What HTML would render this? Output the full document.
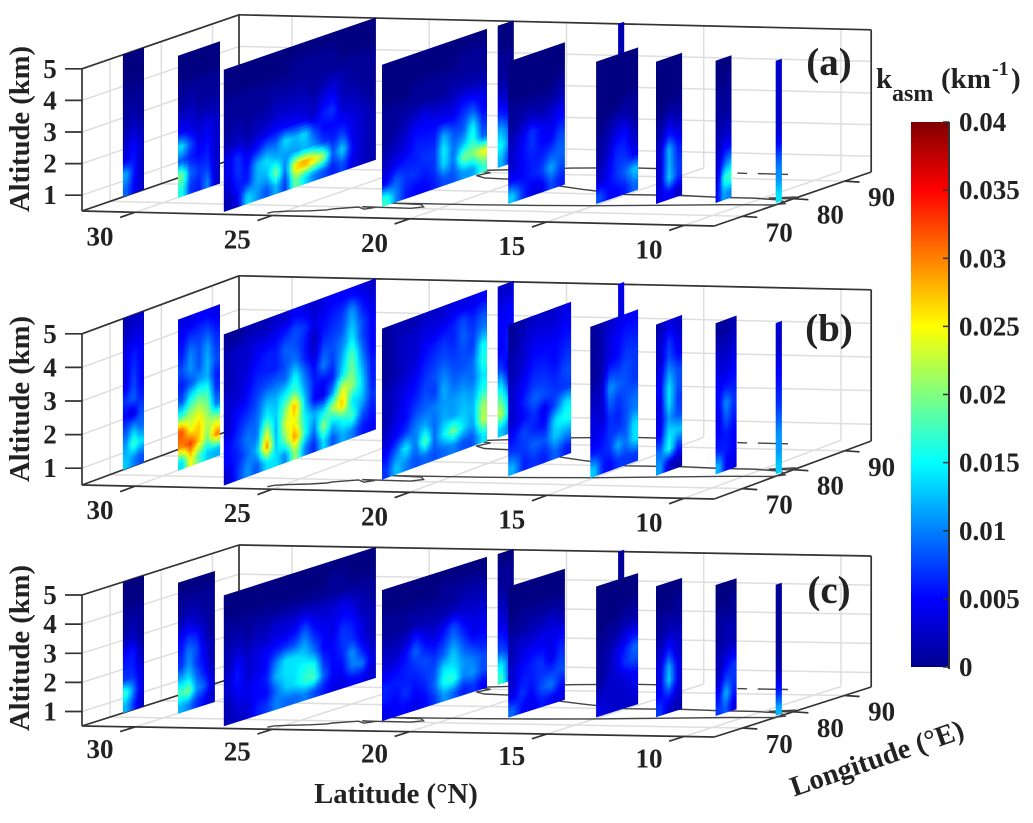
<!DOCTYPE html>
<html>
<head>
<meta charset="utf-8">
<title>kasm slices</title>
<style>
html,body{margin:0;padding:0;background:#fff;}
svg{display:block;}
text{font-family:"Liberation Serif",serif;font-weight:bold;fill:#222;}
</style>
</head>
<body>
<svg id="chart" xmlns="http://www.w3.org/2000/svg" width="1033" height="823" viewBox="0 0 1033 823">
<defs>
<linearGradient id="jetBar" x1="0" y1="1" x2="0" y2="0">
<stop offset="0" stop-color="#00008f"/><stop offset="0.125" stop-color="#0000ff"/><stop offset="0.375" stop-color="#00ffff"/><stop offset="0.625" stop-color="#ffff00"/><stop offset="0.875" stop-color="#ff0000"/><stop offset="1" stop-color="#800000"/>
</linearGradient>
<filter id="soft" x="-40%" y="-10%" width="180%" height="120%" color-interpolation-filters="sRGB"><feGaussianBlur stdDeviation="0.9"/></filter>
</defs>
</svg>
<script>
// ---- axis data ----
const latTicks = [30, 25, 20, 15, 10];
const lonTicks = [70, 80, 90];
const altTicks = [1, 2, 3, 4, 5];
const colorbarTicks = [0, 0.005, 0.01, 0.015, 0.02, 0.025, 0.03, 0.035, 0.04];
const colorbarLabels = ["0", "0.005", "0.01", "0.015", "0.02", "0.025", "0.03", "0.035", "0.04"];
const panelNames = ["a", "b", "c"];

// ---- slice locations (deg) ----
const sliceLats = [31.92, 29.95, 27.0, 22.1, 22.02, 18.1, 18.12, 15.1, 13.06, 11.13, 9.08];
const lonStartA = [72.45, 72.64, 65.76, 70.4, 92.6, 73.6, 95.2, 74.7, 75.46, 76.75, 77.5];
const lonEndA = [76.57, 80.86, 95.5, 90.93, 95.75, 84.7, 96.4, 82.9, 80.56, 79.85, 78.7];
const lonStartB = [72.45, 72.64, 65.76, 70.4, 92.6, 73.6, 95.2, 73.56, 75.46, 76.75, 77.5];
const lonEndB = [76.57, 80.86, 95.5, 90.93, 95.75, 85.9, 96.4, 82.9, 80.56, 80.86, 78.7];
const lonStartC = [72.45, 72.64, 65.76, 70.4, 92.6, 73.6, 95.2, 74.7, 75.46, 76.75, 77.5];
const lonEndC = [76.57, 79.85, 95.5, 90.93, 95.75, 84.7, 96.4, 82.9, 80.56, 80.86, 78.7];

// ---- coastline (lat, lon) ----
const coastWestLat = [25.4,25.3,24.9,24.2,23.7,23.6,22.9,22.5,22.3,22.8,21.0,20.7,21.0,22.2,21.0,19,17,15,12.9,10.5,9.0,8.7,9.0,9.3,10.3,11.5,13,15,16,17,18.5,19.8,20.5,21.5,22,21.8,22.5,21,19.5,17.5,16,15.9];
const coastWestLon = [65.7,66.5,67,67.5,68.2,68.8,70.1,69,70,70.3,70.1,71,72.2,72.6,72.7,72.8,73.2,73.8,74.8,76,76.4,77.3,78.5,79.2,79.8,79.8,80.3,80.1,81.2,82.3,84.3,85.8,86.8,87.2,88.3,90,91,92.2,93.5,94.4,94.3,95.5];
const lankaLat = [9.8, 9.2, 9.0, 9.0, 9.8];
const lankaLon = [80, 80.7, 81.0, 79.9, 80];
const andamanNorthLat = [13.35, 12.99];
const andamanNorthLon = [92.9, 92.9];
const andamanSouthLat = [12.6, 11.5];
const andamanSouthLon = [92.9, 92.9];

// ---- kasm values, in 0.001 km^-1; rows run from 5 km down to 0.5 km ----
const kasmA = [
[[0,0,0],[0,0,0],[0.5,0.5,0.5],[1,1,1],[1,2,1],[2,3,2],[3,5,3],[4,6,3],[12,6,3],[9,5,3]],
[[0,0,0,0,0],[0,0,0,0,0],[1,1,1,1,1],[1,2,1,1,1],[3,3,2,2,2],[5,4,3,4,3],[14,8,4,5,3],[8,6,5,6,3],[20,9,7,7,3],[16,7,6,10,3]],
[[0,0,0,0,0,0,0,0,0,0,0,0,0,0,0,0],
 [0,0,0,0,0,0,0,1,1,1,1,1,0,0,0,0],
 [1,1,1,1,1,1,1,1,1,1,1,1,1,1,1,1],
 [1,1,1,1,1,2,2,2,2,1,2,3,2,1,1,1],
 [1,2,1,2,2,3,3,3,3,2,4,5,2,2,1,1],
 [2,3,2,3,4,5,5,5,4,3,6,7,3,3,2,1],
 [4,7,4,6,9,9,14,12,14,8,5,5,5,4,3,2],
 [4,7,5,12,14,12,11,11,12,11,7,6,8,4,3,2],
 [3,6,6,12,12,20,9,27,30,27,22,8,14,5,3,2],
 [2,4,14,11,8,12,7,20,14,10,8,6,8,4,3,2]],
[[0,0,0,0,0,0,0,0,0,0,0],[0,0,0,0,0,0,0,0,1,1,1],[0,0,0,1,1,1,1,1,1,1,1],[1,1,1,1,1,1,1,2,2,2,2],[1,1,2,3,4,3,3,3,5,5,4],[1,2,3,5,5,5,5,5,7,9,5],[2,3,4,6,6,6,12,8,8,15,7],[3,5,6,6,7,7,15,9,12,17,9],[5,9,7,7,6,7,14,9,20,20,25],[17,10,6,5,5,6,8,8,11,11,17]],
[[0,0],[0,0],[1,1],[1,1],[2,2],[4,3],[7,5],[12,8],[15,9],[12,6]],
[[0,0,0,0,0,0],[0,0,0,0,0,0],[0,0,0,0,0,1],[1,1,1,1,1,2],[1,2,3,2,3,4],[2,4,7,5,4,6],[3,5,7,5,5,8],[3,5,6,6,8,9],[5,5,6,7,12,8],[13,7,4,4,8,6]],
[[2,2],[2,2],[2,2],[2,2],[2,2],[2,2],[2,2],[2,2],[2,2],[2,2]],
[[0,0,0,0,0],[0,0,0,0,0],[0,0,0,0,0],[0,0,0,1,1],[0,1,2,2,1],[1,2,4,5,2],[1,3,6,6,3],[2,4,7,7,5],[3,5,7,9,13],[8,5,5,6,9]],
[[0,0,0],[0,0,0],[0,0,0],[0,1,1],[1,3,2],[2,6,4],[3,12,6],[3,12,7],[3,13,7],[4,5,3]],
[[0,0,0],[0,0,1],[1,1,1],[1,1,1],[1,2,2],[2,3,3],[2,5,6],[3,8,12],[3,16,18],[5,12,10]],
[[3,3],[3,3],[3,3],[3,3],[3,3],[4,4],[7,7],[10,10],[11,11],[14,14]]
];
const kasmB = [
[[2,3,3],[3,4,4],[4,6,5],[4,7,5],[4,8,5],[7,9,6],[5,3,8],[8,12,9],[11,18,14],[13,10,8]],
[[4,4,5,5,4],[5,7,7,8,6],[6,10,8,11,7],[8,11,8,12,8],[6,8,11,12,6],[8,15,18,17,7],[17,21,23,20,10],[32,24,27,22,22],[30,33,27,20,30],[14,25,18,13,12]],
[[1,1,2,2,2,3,3,5,4,3,4,5,5,5,4,3],
 [2,3,3,4,4,5,6,8,7,4,5,6,7,11,6,4],
 [2,3,3,5,6,6,9,8,6,2,6,7,8,13,8,5],
 [2,3,4,6,6,6,8,10,6,3,8,8,10,15,8,5],
 [3,3,5,7,8,9,9,15,9,5,10,7,12,19,10,5],
 [3,5,6,8,12,12,15,18,11,6,5,6,14,20,12,6],
 [3,6,8,9,15,13,20,29,13,5,4,11,24,21,14,6],
 [5,7,10,9,23,12,24,25,15,12,14,22,28,14,13,7],
 [5,6,9,12,30,13,20,30,16,9,21,13,16,18,9,6],
 [3,7,11,8,14,14,10,22,10,6,14,8,12,10,6,5]],
[[1,2,2,2,3,3,3,4,4,4,5],[1,2,3,3,4,4,5,6,8,6,8],[1,2,3,3,5,6,7,6,9,7,10],[1,2,3,4,6,7,8,7,8,7,15],[2,3,4,5,7,8,10,8,8,9,16],[2,3,5,6,8,7,12,9,10,9,14],[2,4,5,8,9,10,11,11,12,11,16],[3,5,7,10,12,9,12,11,13,12,21],[5,9,15,9,19,9,15,20,14,11,22],[7,13,10,8,9,8,9,10,8,8,14]],
[[3,3],[4,5],[5,5],[5,6],[5,6],[7,3],[13,5],[18,10],[22,12],[13,9]],
[[1,2,3,3,3,4],[1,3,4,4,4,5],[2,3,5,5,5,6],[2,4,6,6,5,7],[3,5,7,7,6,8],[3,6,9,8,7,7],[3,5,7,4,8,14],[5,8,6,5,14,16],[7,7,9,8,13,11],[12,6,7,6,9,6]],
[[4,4],[4,4],[4,4],[4,4],[4,4],[4,4],[4,4],[4,4],[4,4],[4,4]],
[[1,2,3,4,5,5],[1,2,4,5,6,6],[1,2,4,5,7,7],[1,2,7,7,8,7],[2,3,11,9,8,7],[3,3,9,7,8,9],[4,3,7,6,8,10],[4,5,7,7,8,14],[6,6,7,12,9,14],[13,6,5,7,7,7]],
[[2,4,3],[3,7,4],[3,8,5],[4,11,8],[5,14,8],[4,14,7],[4,11,8],[5,14,13],[9,16,7],[11,3,2]],
[[1,1,2],[2,2,3],[3,3,4],[4,4,5],[5,6,6],[5,11,7],[4,9,6],[5,6,5],[6,6,5],[12,5,4]],
[[3,3],[3,3],[4,4],[5,5],[6,6],[7,7],[9,9],[11,11],[11,11],[13,13]]
];
const kasmC = [
[[0,0,0],[0,0,0],[1,1,1],[1,2,1],[2,3,1],[5,6,2],[6,6,3],[7,7,4],[17,10,4],[12,7,3]],
[[0,0,0,0,0],[1,1,1,1,1],[1,2,2,1,1],[3,4,3,2,1],[5,7,6,3,1],[6,10,8,4,2],[7,11,7,5,2],[12,14,9,6,3],[18,20,11,9,4],[12,10,7,5,3]],
[[0,0,0,0,0,0,0,0,0,0,0,0,0,0,0,0],
 [0,0,0,0,0,0,0,0,0,0,0,1,1,0,0,0],
 [1,1,1,1,1,1,1,1,1,1,1,1,1,1,1,1],
 [1,2,1,2,2,3,3,3,4,3,3,3,4,3,2,1],
 [2,3,2,3,3,4,4,5,8,5,4,4,5,5,2,2],
 [2,5,3,4,5,6,7,8,11,7,5,4,7,6,4,2],
 [3,6,3,4,5,10,14,14,13,10,5,5,7,7,4,2],
 [3,5,4,5,6,12,14,14,16,16,7,5,6,11,6,3],
 [2,4,4,5,5,9,13,14,17,18,9,5,5,10,10,4],
 [2,3,3,6,7,10,9,9,10,8,6,4,4,5,5,3]],
[[0,0,0,0,0,0,0,0,0,0,0],[0,0,0,0,0,0,1,1,1,1,1],[1,1,1,1,1,1,1,1,2,2,2],[1,1,1,2,2,2,2,3,3,3,3],[2,2,3,6,4,3,5,8,5,4,4],[3,3,5,9,6,5,7,10,7,4,5],[4,5,6,7,8,7,9,13,9,7,6],[6,6,6,6,7,8,14,14,11,10,8],[6,5,7,5,6,9,16,17,10,11,8],[4,5,5,4,5,7,11,9,6,7,5]],
[[0,0],[1,1],[1,1],[2,1],[3,2],[4,3],[6,4],[8,6],[14,8],[17,7]],
[[0,0,0,0,0,0],[0,0,0,0,0,0],[0,1,1,1,1,1],[1,1,2,2,3,2],[2,3,3,4,4,4],[2,4,5,5,4,6],[3,5,6,7,4,7],[3,6,6,7,7,8],[4,7,5,8,10,6],[9,5,4,6,5,4]],
[[1,1],[1,1],[1,1],[1,1],[1,1],[1,1],[1,1],[1,1],[1,1],[1,1]],
[[0,0,0,0,0],[0,0,0,0,0],[0,0,0,1,1],[0,1,1,2,2],[1,1,2,4,5],[1,2,4,6,9],[1,2,4,7,8],[1,3,3,4,5],[3,3,3,3,4],[4,3,3,3,3]],
[[0,0,0],[0,0,1],[1,1,1],[1,2,2],[2,4,3],[3,7,3],[4,12,4],[4,13,4],[5,7,3],[7,3,2]],
[[0,0,0],[0,0,1],[1,1,1],[1,2,2],[1,2,2],[2,3,4],[2,5,7],[3,8,7],[5,13,6],[7,9,4]],
[[1,1],[1,1],[1,1],[1,1],[1,1],[1,1],[2,2],[4,4],[7,7],[12,12]]
];

// ---- geometry of the 3D view ----
const LAT_MAX = 31.93, LAT_MIN = 8.9, LON_MIN = 64.5, LON_MAX = 95.2, ALT_MIN = 0.5, ALT_MAX = 5;
const LAT_PX = 27.45, LON_PX = 157, LEFT = 82;
const views = [
  {yBase:211, rise:15, depth:54, zScale:31.6, latLabel:33, altLabelY:129, tag:"(a)", tagY:75, lonStart:lonStartA, lonEnd:lonEndA, kasm:kasmA},
  {yBase:485, rise:14, depth:58, zScale:33.6, latLabel:33, altLabelY:399, tag:"(b)", tagY:341, lonStart:lonStartB, lonEnd:lonEndB, kasm:kasmB},
  {yBase:726, rise:11, depth:50, zScale:29.1, latLabel:31, altLabelY:648, tag:"(c)", tagY:603, lonStart:lonStartC, lonEnd:lonEndC, kasm:kasmC}
];
const WIDTH_PX = (LAT_MAX - LAT_MIN) * LAT_PX;

function project(view, lat, lon, alt) {
  const s = (LAT_MAX - lat) * LAT_PX;
  const t = (lon - LON_MIN) / (LON_MAX - LON_MIN);
  return [
    LEFT + s + LON_PX * t,
    view.yBase + s * view.rise / WIDTH_PX - t * view.depth - (alt - ALT_MIN) * view.zScale
  ];
}

function jet(v) {
  const x = Math.max(0, Math.min(1, v / 40));
  const ramp = function (a) { return Math.max(0, Math.min(1, 1.5 - Math.abs(4 * a))); };
  const r = ramp(x - 0.75);
  const g = ramp(x - 0.5);
  const b = x < 0.125 ? 0.5 + x * 4 : ramp(x - 0.25);
  return "rgb(" + Math.round(r * 255) + "," + Math.round(g * 255) + "," + Math.round(b * 255) + ")";
}

const svg = document.getElementById("chart");
const NS = "http://www.w3.org/2000/svg";

function make(tag, attrs, parent) {
  const el = document.createElementNS(NS, tag);
  for (const k in attrs) el.setAttribute(k, attrs[k]);
  parent.appendChild(el);
  return el;
}
function pts(list) { return list.map(function (p) { return p[0].toFixed(1) + "," + p[1].toFixed(1); }).join(" "); }

const GRID = "#dedede", DARK = "#333";

function sampleGrid(grid, u, v) {
  const rows = grid.length, cols = grid[0].length;
  const cx = Math.max(0, Math.min(cols - 1, u * cols - 0.5));
  const cy = Math.max(0, Math.min(rows - 1, (1 - v) * rows - 0.5));
  const x0 = Math.floor(cx), y0 = Math.floor(cy);
  const x1 = Math.min(cols - 1, x0 + 1), y1 = Math.min(rows - 1, y0 + 1);
  const fx = cx - x0, fy = cy - y0;
  return (grid[y0][x0] * (1 - fx) + grid[y0][x1] * fx) * (1 - fy) + (grid[y1][x0] * (1 - fx) + grid[y1][x1] * fx) * fy;
}

function drawCoast(view, parent, lats, lons, name) {
  const list = lats.map(function (la, i) { return project(view, la, lons[i], ALT_MIN); });
  const line = make("polyline", {points: pts(list), fill: "none", stroke: "#444", "stroke-width": 1.4}, parent);
  
  
}

function drawLine(parent, a, b, color, width, name) {
  const l = make("line", {x1: a[0].toFixed(1), y1: a[1].toFixed(1), x2: b[0].toFixed(1), y2: b[1].toFixed(1), stroke: color, "stroke-width": width}, parent);
  
  
  return l;
}

function drawText(parent, x, y, str, size, anchor, name) {
  const t = make("text", {x: x.toFixed(1), y: y.toFixed(1), "font-size": size, "text-anchor": anchor}, parent);
  t.textContent = str;
  
  
  return t;
}

views.forEach(function (view, pi) {
  const pname = panelNames[pi];
  const g = make("g", {}, svg);
  
  
  const P = function (la, lo, al) { return project(view, la, lo, al); };

  // grid lines
  altTicks.forEach(function (al) {
    drawLine(g, P(LAT_MAX, LON_MIN, al), P(LAT_MAX, LON_MAX, al), GRID, 1.5, "left-wall-gridline");
    drawLine(g, P(LAT_MAX, LON_MAX, al), P(LAT_MIN, LON_MAX, al), GRID, 1.5, "back-wall-gridline");
  });
  latTicks.forEach(function (la) {
    drawLine(g, P(la, LON_MIN, ALT_MIN), P(la, LON_MAX, ALT_MIN), GRID, 1.5, "floor-gridline-lat");
    drawLine(g, P(la, LON_MAX, ALT_MIN), P(la, LON_MAX, ALT_MAX), GRID, 1.5, "back-wall-gridline");
  });
  lonTicks.forEach(function (lo) {
    drawLine(g, P(LAT_MAX, lo, ALT_MIN), P(LAT_MIN, lo, ALT_MIN), GRID, 1.5, "floor-gridline-lon");
    drawLine(g, P(LAT_MAX, lo, ALT_MIN), P(LAT_MAX, lo, ALT_MAX), GRID, 1.5, "left-wall-gridline");
  });

  // box
  drawLine(g, P(LAT_MAX, LON_MIN, ALT_MIN), P(LAT_MAX, LON_MIN, ALT_MAX), DARK, 1.7, "altitude-axis-line");
  drawLine(g, P(LAT_MAX, LON_MIN, ALT_MAX), P(LAT_MAX, LON_MAX, ALT_MAX), DARK, 1.7, "box-edge");
  drawLine(g, P(LAT_MAX, LON_MAX, ALT_MAX), P(LAT_MIN, LON_MAX, ALT_MAX), DARK, 1.7, "box-edge");
  drawLine(g, P(LAT_MAX, LON_MAX, ALT_MIN), P(LAT_MAX, LON_MAX, ALT_MAX), DARK, 1.7, "box-edge");
  drawLine(g, P(LAT_MIN, LON_MAX, ALT_MIN), P(LAT_MIN, LON_MAX, ALT_MAX), DARK, 1.7, "box-edge");
  drawLine(g, P(LAT_MAX, LON_MIN, ALT_MIN), P(LAT_MIN, LON_MIN, ALT_MIN), DARK, 1.7, "latitude-axis-line");
  drawLine(g, P(LAT_MIN, LON_MIN, ALT_MIN), P(LAT_MIN, LON_MAX, ALT_MIN), DARK, 1.7, "longitude-axis-line");
  drawLine(g, P(LAT_MAX, LON_MIN, ALT_MIN), P(LAT_MAX, LON_MAX, ALT_MIN), DARK, 1.7, "box-edge");

  // coastlines
  drawCoast(view, g, coastWestLat, coastWestLon, "coastline");
  drawCoast(view, g, lankaLat, lankaLon, "sri-lanka-coast");
  drawCoast(view, g, andamanNorthLat, andamanNorthLon, "andaman-coast");
  drawCoast(view, g, andamanSouthLat, andamanSouthLon, "andaman-coast");

  // ticks and labels
  altTicks.forEach(function (al) {
    const p = P(LAT_MAX, LON_MIN, al);
    drawLine(g, p, [p[0] - 17, p[1]], DARK, 1.7, "altitude-tick");
    drawText(g, 50, p[1] + 9, String(al), 27, "middle", "altitude-tick-label");
  });
  latTicks.forEach(function (la) {
    const p = P(la, LON_MIN, ALT_MIN);
    drawLine(g, p, P(la, LON_MIN - 2.9, ALT_MIN), DARK, 1.7, "latitude-tick");
    drawText(g, p[0] - 35, p[1] + view.latLabel, String(la), 27, "middle", "latitude-tick-label");
  });
  lonTicks.forEach(function (lo) {
    const p = P(LAT_MIN, lo, ALT_MIN);
    drawLine(g, p, [p[0] + 15, p[1] + 1], DARK, 1.7, "longitude-tick");
    drawText(g, p[0] + 37, p[1] + 25, String(lo), 27, "middle", "longitude-tick-label");
  });

  // slices, back to front (array order already runs north to south)
  sliceLats.forEach(function (lat, si) {
    const lon0 = view.lonStart[si], lon1 = view.lonEnd[si], grid = view.kasm[si];
    const sg = make("g", {}, g);
    
    
    const clip = make("clipPath", {id: "clip-" + pname + "-" + si}, sg);
    
    
    const cp = make("polygon", {points: pts([P(lat, lon0, ALT_MIN), P(lat, lon1, ALT_MIN), P(lat, lon1, ALT_MAX), P(lat, lon0, ALT_MAX)])}, clip);
    
    
    const clipped = make("g", {"clip-path": "url(#clip-" + pname + "-" + si + ")"}, sg);
    
    
    const blurred = make("g", {filter: "url(#soft)", "shape-rendering": "crispEdges"}, clipped);
    
    
    const w = (P(lat, lon1, ALT_MIN)[0] - P(lat, lon0, ALT_MIN)[0]);
    const nu = Math.max(2, Math.ceil(w / 3));
    const nv = Math.ceil((ALT_MAX - ALT_MIN) * view.zScale / 3.5);
    for (let i = -2; i < nu + 2; i++) {
      for (let j = -2; j < nv + 2; j++) {
        const u = (i + 0.5) / nu, v = (j + 0.5) / nv;
        const val = sampleGrid(grid, Math.max(0, Math.min(1, u)), Math.max(0, Math.min(1, v)));
        const loA = lon0 + (lon1 - lon0) * i / nu, loB = lon0 + (lon1 - lon0) * (i + 1.3) / nu;
        const alA = ALT_MIN + (ALT_MAX - ALT_MIN) * j / nv, alB = ALT_MIN + (ALT_MAX - ALT_MIN) * (j + 1.3) / nv;
        const cell = make("polygon", {points: pts([P(lat, loA, alA), P(lat, loB, alA), P(lat, loB, alB), P(lat, loA, alB)]), fill: jet(val)}, blurred);
        
        
      }
    }
  });

  // panel tag and altitude label
  drawText(g, 829, view.tagY, view.tag, 39, "middle", "panel-label-" + pname);
  const alt = drawText(g, 0, 0, "Altitude (km)", 28.6, "middle", "altitude-axis-title");
  alt.setAttribute("transform", "translate(29," + view.altLabelY + ") rotate(-90)");
});

// shared titles
drawText(svg, 396, 803, "Latitude (°N)", 28.7, "middle", "latitude-axis-title");
const lonTitle = drawText(svg, 0, 0, "Longitude (°E)", 28.5, "middle", "longitude-axis-title");
lonTitle.setAttribute("transform", "translate(880,767) rotate(-19)");

// colour bar
const barTop = 122, barBottom = 667, barLeft = 911, barRight = 949;
function barY(v) { return barBottom - (v / 0.04) * (barBottom - barTop); }
const bar = make("rect", {x: barLeft, y: barTop, width: barRight - barLeft, height: barBottom - barTop, fill: "url(#jetBar)"}, svg);


drawLine(svg, [barRight, barTop], [barRight, barBottom + 2], DARK, 2, "colorbar-edge");
colorbarTicks.forEach(function (v, i) {
  const y = barY(v);
  drawLine(svg, [barRight - 6, y], [barRight, y], DARK, 1.5, "colorbar-tick");
  drawText(svg, 959, y + 9, colorbarLabels[i], 27, "start", "colorbar-tick-label");
});

// colour bar title
drawText(svg, 876, 88, "k", 29, "start", "colorbar-title-k");
drawText(svg, 892, 101, "asm", 24, "start", "colorbar-title-subscript");
drawText(svg, 941, 88, "(km", 29, "start", "colorbar-title-unit");
drawText(svg, 992, 75, "-1", 20, "start", "colorbar-title-exponent");
drawText(svg, 1011, 88, ")", 29, "start", "colorbar-title-close");
</script>
</body>
</html>
